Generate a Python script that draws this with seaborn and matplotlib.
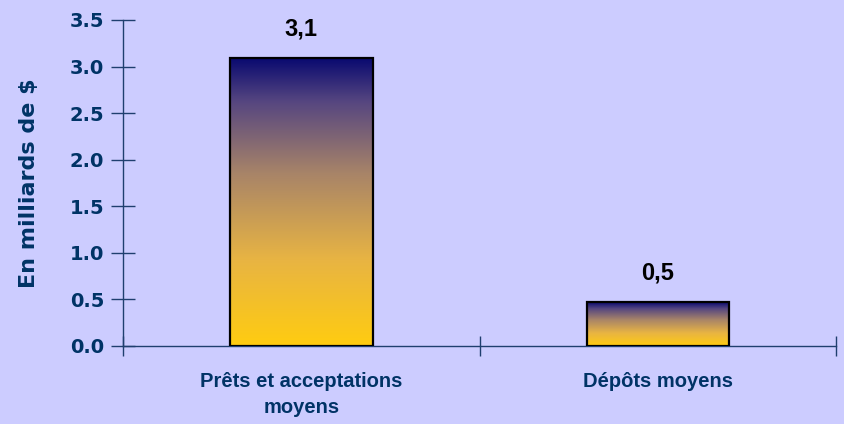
import numpy as np
import pandas as pd
import matplotlib
matplotlib.use("Agg")
import matplotlib.pyplot as plt
from matplotlib.colors import LinearSegmentedColormap
import seaborn as sns

categories = ["Prêts et acceptations\nmoyens", "Dépôts moyens"]
values = [3.09, 0.47]
value_labels = ["3,1", "0,5"]
yticks = [0.0, 0.5, 1.0, 1.5, 2.0, 2.5, 3.0, 3.5]

bg = "#CCCCFF"
navy = "#003366"
axcol = "#1F3F6F"
sns.set_theme(style="white")
plt.rcParams['font.family'] = ['Liberation Sans', 'DejaVu Sans']

fig = plt.figure(figsize=(8.44, 4.24), dpi=100, facecolor=bg)
ax = fig.add_axes([0.1457, 0.184, 0.845, 0.769])
ax.set_facecolor(bg)

df = pd.DataFrame({"cat": categories, "val": values})
sns.barplot(data=df, x="cat", y="val", ax=ax, width=0.4, color="white",
            edgecolor="black", linewidth=1.6, zorder=3)

cmap = LinearSegmentedColormap.from_list(
    "g", [(0.0, "#FFCC11"), (0.3, "#E8B443"), (0.6, "#A88468"), (0.85, "#564680"), (1.0, "#0A0A70")])
grad = np.linspace(0, 1, 256).reshape(-1, 1)
for p in ax.patches:
    p.set_facecolor("none")
    x0, y0 = p.get_x(), p.get_y()
    w, h = p.get_width(), p.get_height()
    im = ax.imshow(grad, cmap=cmap, origin="lower", aspect="auto",
                   extent=[x0, x0 + w, y0, y0 + h], zorder=2)
    im.set_clip_path(p)

for i, (v, lab) in enumerate(zip(values, value_labels)):
    ax.annotate(lab, (i, v), xytext=(0, 13), textcoords="offset points",
                ha="center", va="bottom", fontsize=17, fontweight="bold", color="black",
                family=["Liberation Sans", "DejaVu Sans"])

ax.set_xlim(-0.5, 1.5)
ax.set_ylim(0, 3.5)
ax.set_yticks(yticks)
ax.set_yticklabels([f"{t:.1f}" for t in yticks], fontweight="bold",
                   fontfamily=["DejaVu Sans"])
ax.set_xticks([-0.5, 0.5, 1.5], minor=True)
ax.set_xticks([0, 1])
ax.set_xticklabels(categories, fontweight="bold", fontsize=14.5,
                   fontfamily=["Liberation Sans", "DejaVu Sans"], linespacing=1.45)
ax.tick_params(axis="x", which="major", bottom=True, length=0, pad=19, labelcolor=navy)
ax.tick_params(axis="x", which="minor", bottom=True, direction="inout", length=15,
               color=axcol, width=1)
ax.tick_params(axis="y", left=True, direction="inout", length=17, color=axcol, width=1,
               labelsize=14, labelcolor=navy, pad=5)

ax.set_xlabel("")
ax.set_ylabel("En milliards de $", fontsize=16, fontweight="bold", color=navy, labelpad=22,
              family=["DejaVu Sans"])

for s in ["top", "right"]:
    ax.spines[s].set_visible(False)
for s in ["left", "bottom"]:
    ax.spines[s].set_color(axcol)
    ax.spines[s].set_linewidth(1)

fig.savefig("out.png", dpi=100, facecolor=bg)
